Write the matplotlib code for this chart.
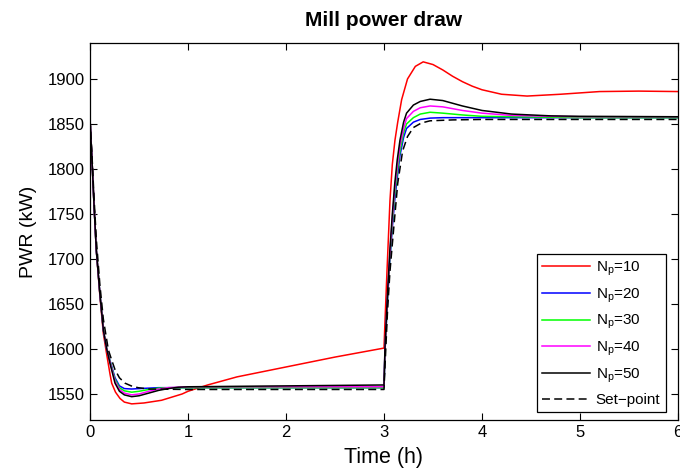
import matplotlib.pyplot as plt

plt.rcParams['font.family'] = ['Liberation Sans', 'DejaVu Sans']
plt.rcParams['mathtext.fontset'] = 'custom'
plt.rcParams['mathtext.rm'] = 'Liberation Sans'
plt.rcParams['mathtext.it'] = 'Liberation Sans'

# Mill power draw (kW), time in hours
t_np10 = [0, 0.02, 0.04, 0.064, 0.1, 0.136, 0.17, 0.204, 0.221, 0.26,
          0.306, 0.35, 0.425, 0.55, 0.73, 0.94, 1.0, 1.2, 1.5, 2.0,
          2.5, 3.0, 3.01, 3.03, 3.061, 3.085, 3.112, 3.14, 3.18, 3.24,
          3.32, 3.4, 3.5, 3.6, 3.7, 3.8, 3.9, 4.0, 4.2, 4.46,
          4.8, 5.2, 5.6, 6.0]
p_np10 = [1855, 1810, 1762, 1710, 1660, 1617, 1594, 1572, 1562, 1552,
          1545, 1541, 1539, 1540, 1543, 1550, 1553, 1560, 1569, 1580,
          1591, 1601, 1630, 1685, 1765, 1805, 1832, 1852, 1877, 1900,
          1914, 1919, 1916, 1910, 1903, 1897, 1892, 1888, 1883, 1881,
          1883, 1886, 1886.5, 1886]

# shared time base for Np = 20..50
t_np = [0, 0.02, 0.04, 0.064, 0.1, 0.136, 0.17, 0.204, 0.255, 0.3,
        0.35, 0.425, 0.5, 0.6, 0.7, 0.8, 0.9, 1.0, 2.0, 3.0,
        3.01, 3.035, 3.06, 3.085, 3.11, 3.135, 3.163, 3.2, 3.23, 3.3,
        3.37, 3.47, 3.6, 3.8, 4.0, 4.3, 4.7, 5.0, 6.0]
p_np20 = [1855, 1810, 1762, 1710, 1662, 1621, 1600, 1587, 1568, 1559,
          1556, 1555.5, 1556, 1556.5, 1557, 1557, 1557, 1557, 1557, 1557,
          1597, 1652, 1698, 1735, 1766, 1790, 1815, 1835, 1845, 1852,
          1855, 1856.5, 1857, 1857, 1857, 1857, 1857, 1857, 1857]
p_np30 = [1855, 1810, 1762, 1710, 1662, 1621, 1600, 1586, 1566, 1557,
          1553.5, 1552, 1553, 1555, 1556.5, 1557, 1557, 1557, 1557, 1557,
          1598, 1655, 1702, 1740, 1772, 1797, 1820, 1840, 1850, 1857,
          1861, 1863, 1862, 1860, 1858.5, 1858, 1857.5, 1857, 1857]
p_np40 = [1855, 1810, 1762, 1710, 1662, 1621, 1600, 1585, 1564, 1555,
          1551, 1549, 1550, 1553, 1555.5, 1557, 1557.5, 1558, 1558, 1558,
          1600, 1658, 1706, 1745, 1778, 1803, 1826, 1845, 1856, 1864,
          1868, 1870, 1869, 1865, 1862, 1859.5, 1858.5, 1858, 1858]
p_np50 = [1855, 1810, 1762, 1710, 1662, 1621, 1600, 1584, 1562, 1553,
          1549, 1547, 1548, 1551, 1554, 1556, 1557.5, 1558, 1559, 1560,
          1602, 1660, 1710, 1750, 1784, 1810, 1832, 1852, 1862, 1871,
          1875, 1877.5, 1876, 1870, 1865, 1861, 1859, 1858.5, 1858]

t_sp = [0, 0.02, 0.04, 0.064, 0.1, 0.136, 0.187, 0.22, 0.255, 0.3,
        0.357, 0.42, 0.49, 0.6, 1.0, 2.0, 3.0, 3.01, 3.035, 3.06,
        3.095, 3.14, 3.19, 3.24, 3.3, 3.38, 3.47, 3.7, 4.0, 5.0, 6.0]
p_sp = [1855, 1815, 1770, 1722, 1672, 1633, 1599, 1588, 1577, 1568,
        1562, 1559, 1557, 1555.5, 1555, 1555, 1555, 1580, 1640, 1685,
        1729, 1784, 1820, 1836, 1846, 1851, 1853.5, 1854.5, 1855, 1855, 1855]

fig = plt.figure(figsize=(6.8, 4.72), dpi=100)
ax = fig.add_axes([0.1324, 0.110, 0.8646, 0.799])

lw = 1.1
ax.plot(t_np10, p_np10, color='#ff0000', lw=lw, label=r'N$_\mathregular{p}$=10')
ax.plot(t_np, p_np20, color='#0000ff', lw=lw, label=r'N$_\mathregular{p}$=20')
ax.plot(t_np, p_np30, color='#00ff00', lw=lw, label=r'N$_\mathregular{p}$=30')
ax.plot(t_np, p_np40, color='#ff00ff', lw=lw, label=r'N$_\mathregular{p}$=40')
ax.plot(t_np, p_np50, color='#000000', lw=lw, label=r'N$_\mathregular{p}$=50')
ax.plot(t_sp, p_sp, color='#000000', lw=lw, ls=(0, (5.2, 2.8)), label='Set\u2212point')

ax.set_xlim(0, 6)
ax.set_ylim(1521, 1940)
ax.set_xticks(range(0, 7))
ax.set_yticks(range(1550, 1901, 50))
ax.tick_params(direction='in', top=True, right=True, labelsize=12, length=5)
for s in ax.spines.values():
    s.set_linewidth(0.9)

ax.set_xlabel('Time (h)', fontsize=15.5, labelpad=5)
ax.set_ylabel('PWR (kW)', fontsize=14, labelpad=8)
ax.set_title('Mill power draw', fontsize=15, fontweight='bold', pad=12)

leg = ax.legend(loc='lower right', fontsize=11, fancybox=False, framealpha=1,
                edgecolor='black', borderaxespad=0.5, handlelength=3.1,
                labelspacing=0.55, handletextpad=0.4, borderpad=0.35,
                bbox_to_anchor=(0.992, 0.0))
leg.get_frame().set_linewidth(0.9)

fig.savefig('out.png', dpi=100)
